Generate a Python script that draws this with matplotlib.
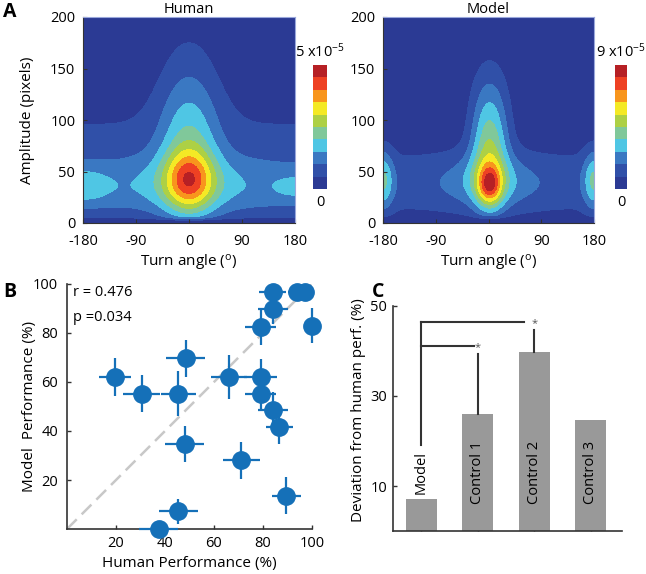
import numpy as np
import matplotlib
matplotlib.use('Agg')
import matplotlib.pyplot as plt
from matplotlib.colors import ListedColormap

plt.rcParams['font.family'] = ['Open Sans', 'DejaVu Sans']
plt.rcParams['font.size'] = 10
plt.rcParams['mathtext.default'] = 'regular'

# ---------------- Panel A data (density model components, units 1e-5) ----------------
level_colors = ['#2b3a94', '#3050a8', '#3a78c2', '#4fc6e4', '#80c89a',
                '#add045', '#f4e925', '#f8951d', '#ee4123', '#b62025']
human_max = 5.0
model_max = 9.0
inf = np.inf

# component centres (angle, amplitude), widths (angle, amplitude), weights
human_cx = [0, 0, 0, 0, 0, 0, -180, 180]
human_cy = [32, 75, 42, 60, 40, 120, 36, 35]
human_sx = [inf, inf, 28, 32, 80, 40, 30, 25]
human_sy = [22, 40, 20, 45, 25, 55, 12, 8]
human_w = [0.95, 0.55, 1.8, 1.0, 0.4, 0.72, 0.65, 0.45]
human_taper = 4.0

model_cx = [0, 0, 2, 2, 2, 2, -180, 180]
model_cy = [36, 60, 36, 60, 40, 105, 42, 42]
model_sx = [inf, inf, 14, 20, 50, 25, 12, 12]
model_sy = [24, 30, 13, 35, 18, 40, 20, 20]
model_w = [1.215, 0.315, 3.33, 2.7, 1.44, 2.0, 2.43, 2.43]
model_taper = 5.0

angle_ticks = [-180, -90, 0, 90, 180]
amp_ticks = [0, 50, 100, 150, 200]

# ---------------- Panel B data ----------------
human_perf = [84, 94, 97, 84, 79, 100, 48.4, 19.6, 30.5, 45.5, 66, 79, 79, 84, 86.7, 48, 71.2, 89.5, 45.5, 37.4]
model_perf = [96.6, 96.6, 96.6, 89.8, 82.5, 83, 69.6, 62, 55.3, 55.3, 62, 62, 55.3, 48.4, 41.6, 34.8, 28, 13.6, 7.2, 0]
human_err = [5.5, 4, 4, 6, 6.5, 3, 8, 6.5, 7.5, 7.2, 7.4, 6.8, 6.5, 6, 5.5, 8, 7.4, 6, 8, 8]
model_err = [3, 3, 3, 6, 7.5, 7, 7.6, 7.8, 7.5, 9, 9, 7.5, 7, 7.5, 7, 7.4, 7.7, 7.5, 5, 0]
r_text = "r = 0.476"
p_text = "p =0.034"

# ---------------- Panel C data ----------------
conditions = ['Model', 'Control 1', 'Control 2', 'Control 3']
deviation = [7.2, 25.9, 39.7, 24.6]
deviation_err = [0, 13.4, 5.0, 0]

W, H = 646, 574
fig = plt.figure(figsize=(W / 100, H / 100), dpi=100)


def rect(x0, y0, x1, y1):
    return [x0 / W, 1 - y1 / H, (x1 - x0) / W, (y1 - y0) / H]


ang = np.linspace(-180, 180, 721)
amp = np.linspace(0, 200, 401)


def density(cx, cy, sx, sy, w, taper):
    X, Y = np.meshgrid(ang, amp)
    Z = np.zeros_like(X)
    for a, b, s, t, k in zip(cx, cy, sx, sy, w):
        gx = np.exp(-0.5 * ((X - a) / s) ** 2) if np.isfinite(s) else 1.0
        Z += k * gx * np.exp(-0.5 * ((Y - b) / t) ** 2)
    Z *= 1 - np.exp(-(Y / taper) ** 2)
    return X, Y, Z


dark = '#333333'


def contour_panel(box, cbox, comps, vmax, title, label_top, ylabel=None):
    ax = fig.add_axes(rect(*box))
    X, Y, Z = density(*comps)
    levels = list(np.linspace(0, vmax, 11))
    levels[0] = -1
    levels[-1] = 1e3
    ax.contourf(X, Y, Z, levels=levels, colors=level_colors)
    ax.set_xlim(-180, 180)
    ax.set_ylim(0, 200)
    ax.set_xticks(angle_ticks)
    ax.set_xticklabels([str(v) for v in angle_ticks])
    ax.set_yticks(amp_ticks)
    ax.tick_params(direction='in', length=3, width=0.8, color=dark, labelsize=10.5)
    ax.tick_params(axis='x', pad=8)
    ax.tick_params(axis='y', pad=5.5)
    for s in ['top', 'right']:
        ax.spines[s].set_color('#9aa8dc')
        ax.spines[s].set_linewidth(0.8)
    for s in ['left', 'bottom']:
        ax.spines[s].set_color(dark)
        ax.spines[s].set_linewidth(0.8)
    ax.set_title(title, fontsize=10.5, pad=3)
    ax.set_xlabel(r"Turn angle ($^{o}$)", fontsize=11, labelpad=3)
    if ylabel:
        ax.set_ylabel(ylabel, fontsize=11)
        ax.yaxis.set_label_coords((35 - box[0]) / (box[2] - box[0]), 0.5)
    cax = fig.add_axes(rect(*cbox))
    cax.imshow(np.arange(10).reshape(-1, 1), cmap=ListedColormap(level_colors),
               origin='lower', aspect='auto')
    cax.set_axis_off()
    cxm = (cbox[0] + cbox[2]) / 2
    fig.text(cxm / W, 1 - (cbox[1] - 4) / H, label_top, ha='center', va='bottom', fontsize=10.5)
    fig.text(cxm / W, 1 - (cbox[3] + 14) / H, "0", ha='center', va='center', fontsize=10.5)
    return ax


contour_panel((83, 17, 295, 223), (313, 65, 327, 189),
              (human_cx, human_cy, human_sx, human_sy, human_w, human_taper),
              human_max, "Human", r"5 x10$^{-5}$", ylabel="Amplitude (pixels)")
contour_panel((383, 17, 594, 223), (615, 65, 627, 189),
              (model_cx, model_cy, model_sx, model_sy, model_w, model_taper),
              model_max, "Model", r"9 x10$^{-5}$")

# ---------------- Panel B ----------------
bbox_B = (67, 284, 312, 529)
axB = fig.add_axes(rect(*bbox_B))
axB.plot([0, 100], [0, 100], ls=(0, (5.5, 2.8)), color='#c8c8c8', lw=1.8, zorder=1)
blue = '#1570b8'
eb = axB.errorbar(human_perf, model_perf, xerr=human_err, yerr=model_err, fmt='o',
                  ms=12.5, color=blue, ecolor=blue, elinewidth=1.6, capsize=0, zorder=3)
eb.lines[0].set_clip_on(False)
for art in eb.lines[2]:
    art.set_clip_on(False)
axB.set_xlim(0, 100)
axB.set_ylim(0, 100)
axB.set_xticks([20, 40, 60, 80, 100])
axB.set_yticks([20, 40, 60, 80, 100])
axB.tick_params(direction='in', length=3, width=1, color=dark, labelsize=10.5)
axB.tick_params(axis='x', pad=5)
axB.tick_params(axis='y', pad=6.5)
for s in ['top', 'right']:
    axB.spines[s].set_visible(False)
for s in ['left', 'bottom']:
    axB.spines[s].set_color(dark)
    axB.spines[s].set_linewidth(1.2)
axB.set_xlabel("Human Performance (%)", fontsize=11, labelpad=4)
axB.set_ylabel("Model  Performance (%)", fontsize=11)
axB.yaxis.set_label_coords((37 - bbox_B[0]) / (bbox_B[2] - bbox_B[0]), 0.5)
axB.text(2.5, 96.5, r_text, fontsize=10.5, va='center', ha='left')
axB.text(2.5, 86.5, p_text, fontsize=10.5, va='center', ha='left')

# ---------------- Panel C ----------------
bbox_C = (393, 306, 622, 531)
axC = fig.add_axes(rect(*bbox_C))
pos = np.arange(1, len(conditions) + 1)
axC.bar(pos, deviation, width=0.55, color='#999999', zorder=2)
for x, v, e in zip(pos, deviation, deviation_err):
    if e > 0:
        axC.plot([x, x], [v, v + e], color=dark, lw=1.5, zorder=3)
# significance brackets
axC.plot([1, 1], [19.2, 46.5], color=dark, lw=1.5, zorder=3)
axC.plot([1, 2.82], [46.5, 46.5], color=dark, lw=1.5, zorder=3)
axC.plot([1, 1.93], [41.2, 41.2], color=dark, lw=1.5, zorder=3)
axC.text(3.0, 46.0, "*", ha='center', va='center', fontsize=8, color='#555555')
axC.text(1.99, 40.7, "*", ha='center', va='center', fontsize=8, color='#555555')
label_bottoms = [8.3, 5.9, 5.9, 5.9]
for x, lab, b in zip(pos, conditions, label_bottoms):
    axC.text(x, b, lab, rotation=90, ha='center', va='bottom', fontsize=10.5)
axC.set_xlim(0.5, 4.55)
axC.set_ylim(0, 50)
axC.set_yticks([10, 30, 50])
axC.set_xticks(pos)
axC.set_xticklabels([])
axC.tick_params(direction='in', length=3, width=1, color=dark, labelsize=10.5, pad=4.3)
for s in ['top', 'right']:
    axC.spines[s].set_visible(False)
for s in ['left', 'bottom']:
    axC.spines[s].set_color(dark)
    axC.spines[s].set_linewidth(1.2)
axC.set_ylabel("Deviation from human perf. (%)", fontsize=11)
axC.yaxis.set_label_coords((366 - bbox_C[0]) / (bbox_C[2] - bbox_C[0]), (531 - 410) / 225)

# panel letters
fig.text(3 / W, 1 - 12 / H, "A", fontsize=14, fontweight='bold', va='center', ha='left')
fig.text(3 / W, 1 - 292 / H, "B", fontsize=14, fontweight='bold', va='center', ha='left')
fig.text(372 / W, 1 - 292 / H, "C", fontsize=14, fontweight='bold', va='center', ha='left')

fig.savefig('out.png', dpi=100)
